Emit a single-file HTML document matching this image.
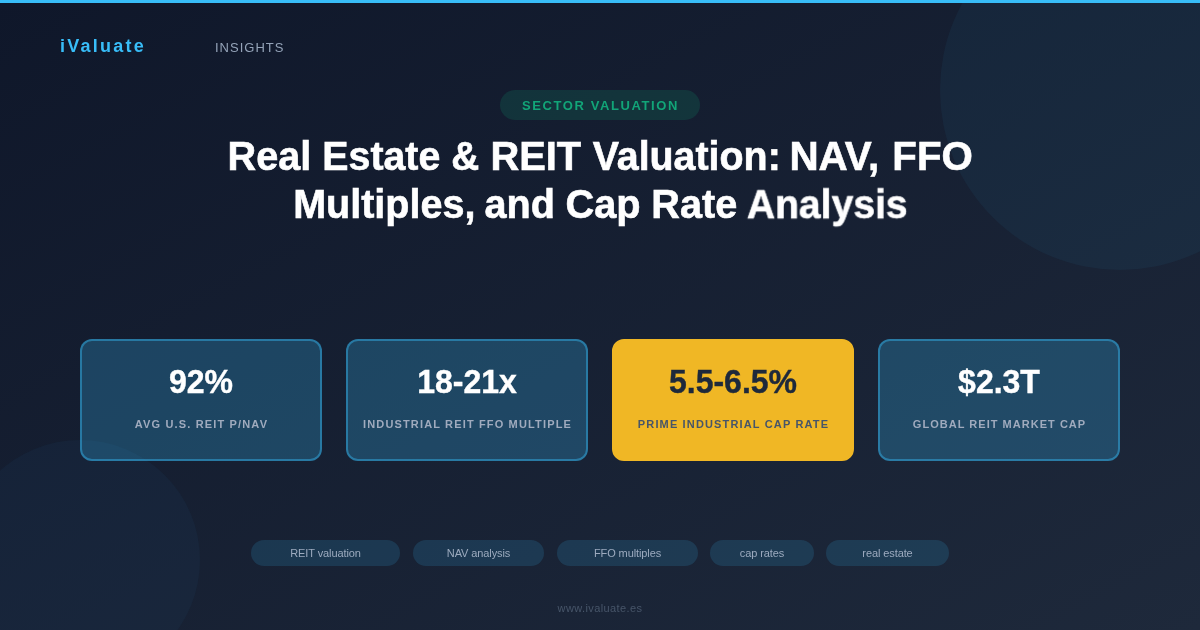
<!DOCTYPE html>
<html>
<head>
<meta charset="utf-8">
<style>
*{margin:0;padding:0;box-sizing:border-box;}
html,body{width:1200px;height:630px;overflow:hidden;}
body{font-family:"Liberation Sans",sans-serif;background:linear-gradient(to bottom right,#0f172a 0%,#1e293b 100%);position:relative;color:#fff;}
#wrap{position:absolute;left:0;top:0;width:1200px;height:630px;will-change:transform;}
.topbar{position:absolute;left:0;top:0;width:1200px;height:3px;background:#38bdf8;}
.c1{position:absolute;left:940px;top:-90px;width:360px;height:360px;border-radius:50%;background:rgba(56,189,248,0.052);}
.c2{position:absolute;left:-40px;top:440px;width:240px;height:240px;border-radius:50%;background:rgba(56,189,248,0.04);}
.logo{position:absolute;left:60px;top:36px;font-size:18px;font-weight:bold;letter-spacing:2.25px;color:#38bdf8;line-height:20px;white-space:nowrap;}
.ins{position:absolute;left:215px;top:40px;font-size:13px;letter-spacing:1px;color:#94a3b8;line-height:16px;}
.badge{position:absolute;left:500px;top:90px;width:200px;height:30px;border-radius:15px;background:rgba(16,185,129,0.15);color:#12a578;font-size:13px;font-weight:bold;letter-spacing:1.6px;text-align:center;line-height:32px;padding-left:1px;}
.w{position:absolute;left:0;white-space:nowrap;color:#fff;-webkit-text-stroke:0.6px #fff;font-weight:bold;font-size:40px;line-height:48px;transform-origin:0 38px;}
.card{position:absolute;top:339px;width:242px;height:122px;border-radius:12px;background:rgba(56,189,248,0.25);border:2px solid rgba(56,189,248,0.43);text-align:center;}
.card .v{position:absolute;left:-2px;right:-2px;top:23px;font-size:32px;font-weight:bold;line-height:36px;color:#fff;transform-origin:50% 29px;transform:scaleY(1.045);-webkit-text-stroke:0.4px currentColor;}
.card .l{position:absolute;left:-2px;right:-2px;top:76px;font-size:11px;font-weight:bold;letter-spacing:1.15px;line-height:14px;color:#a0abbe;padding-left:1px;white-space:nowrap;}
.card.hl{background:#f0b725;border-color:#f0b725;}
.card.hl .v{color:#1e293b;}
.card.hl .l{color:#475569;}
.tag{position:absolute;top:540px;height:26px;border-radius:13px;background:rgba(56,189,248,0.15);color:#9dabbf;font-size:11px;line-height:26px;text-align:center;letter-spacing:-0.1px;}
.foot{position:absolute;left:0;width:1200px;top:601px;text-align:center;font-size:11px;letter-spacing:0.4px;color:#475569;line-height:14px;}
</style>
</head>
<body>
<div id="wrap">
<div class="c1"></div>
<div class="c2"></div>
<div class="topbar"></div>
<div class="logo">iValuate</div>
<div class="ins">INSIGHTS</div>
<div class="badge">SECTOR VALUATION</div>
<span class="w" style="top:132px;transform:translateX(227.58px) scale(0.9913,1.02)">Real</span>
<span class="w" style="top:132px;transform:translateX(322.28px) scale(0.9834,1.02)">Estate</span>
<span class="w" style="top:132px;transform:translateX(451.23px) scale(0.9701,1.02)">&amp;</span>
<span class="w" style="top:132px;transform:translateX(490.44px) scale(0.9959,1.02)">REIT</span>
<span class="w" style="top:132px;transform:translateX(592.66px) scale(0.9840,1.02)">Valuation:</span>
<span class="w" style="top:132px;transform:translateX(789.40px) scale(1.0095,1.02)">NAV,</span>
<span class="w" style="top:132px;transform:translateX(892.34px) scale(1.0065,1.02)">FFO</span>
<span class="w" style="top:180px;transform:translateX(293.13px) scale(0.9882,1.02)">Multiples,</span>
<span class="w" style="top:180px;transform:translateX(484.45px) scale(0.9899,1.02)">and</span>
<span class="w" style="top:180px;transform:translateX(565.44px) scale(0.9956,1.02)">Cap</span>
<span class="w" style="top:180px;transform:translateX(651.36px) scale(0.9910,1.02)">Rate</span>
<span class="w" style="top:180px;transform:translateX(746.84px) scale(0.9772,1.02)">Analysis</span>
<div class="card" style="left:80px"><div class="v">92%</div><div class="l">AVG U.S. REIT P/NAV</div></div>
<div class="card" style="left:346px"><div class="v">18-21x</div><div class="l">INDUSTRIAL REIT FFO MULTIPLE</div></div>
<div class="card hl" style="left:612px"><div class="v">5.5-6.5%</div><div class="l">PRIME INDUSTRIAL CAP RATE</div></div>
<div class="card" style="left:878px"><div class="v">$2.3T</div><div class="l" style="letter-spacing:1.03px">GLOBAL REIT MARKET CAP</div></div>
<div class="tag" style="left:251px;width:149px">REIT valuation</div>
<div class="tag" style="left:413px;width:131px">NAV analysis</div>
<div class="tag" style="left:557px;width:141px">FFO multiples</div>
<div class="tag" style="left:710px;width:104px">cap rates</div>
<div class="tag" style="left:826px;width:123px">real estate</div>
<div class="foot">www.ivaluate.es</div>
</div>
</body>
</html>
